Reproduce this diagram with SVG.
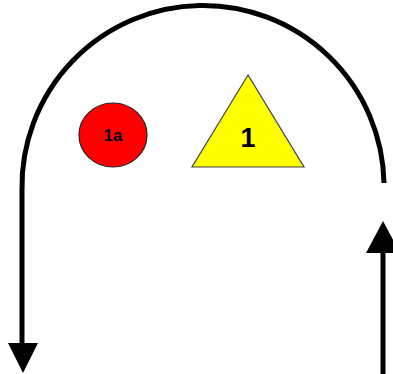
<svg xmlns="http://www.w3.org/2000/svg" width="393" height="374" viewBox="0 0 393 374">
<style>
.conn{fill:none;stroke:#000;stroke-width:5}
.head{fill:#000}
.lbl{font-family:"Liberation Sans",Arial,sans-serif;font-weight:bold;fill:#000;text-anchor:middle}
</style>
<rect width="393" height="374" fill="#fff"/>
<g id="connectors">
<path class="conn" d="M384,183 A181,181 0 0 0 22,190 L22,345" />
<path class="head" d="M8,343 L38,343 L23,373 Z"/>
<path class="conn" d="M383,374 L383,250"/>
<path class="head" d="M366,253 L400,253 L383,221 Z"/>
</g>
<g id="node-1a">
<ellipse cx="113" cy="135" rx="34" ry="32" fill="#ff0000" stroke="#222" stroke-width="1.2"/>
<text class="lbl" x="113" y="141" font-size="17">1a</text>
</g>
<g id="node-1">
<polygon points="248,75 192,167 304,167" fill="#ffff00" stroke="#444" stroke-width="1.2"/>
<text class="lbl" x="248" y="147" font-size="27">1</text>
</g>
</svg>
